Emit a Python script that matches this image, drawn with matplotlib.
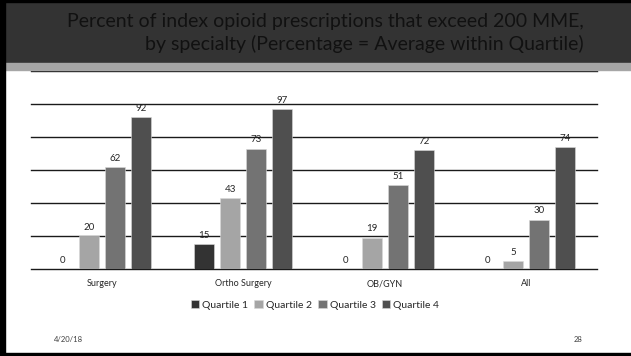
import numpy as np
import matplotlib.pyplot as plt
from matplotlib.patches import Rectangle

# data
categories = ['Surgery', 'Ortho Surgery', 'OB/GYN', 'All']
series_names = ['Quartile 1', 'Quartile 2', 'Quartile 3', 'Quartile 4']
quartile1 = [0, 15, 0, 0]
quartile2 = [20, 43, 19, 5]
quartile3 = [62, 73, 51, 30]
quartile4 = [92, 97, 72, 74]
colors = ['#333333', '#a5a5a5', '#737373', '#4f4f4f']

W, H = 631, 356
fig = plt.figure(figsize=(W / 100, H / 100), dpi=100)
plt.rcParams['font.family'] = ['Lato', 'DejaVu Sans']

# slide decoration: header, band, borders
fig.patches.append(Rectangle((0, 1 - 63 / H), 1, 63 / H, transform=fig.transFigure,
                             color='#333333', zorder=0))
fig.patches.append(Rectangle((0, 1 - 70 / H), 1, 7 / H, transform=fig.transFigure,
                             color='#a6a6a6', zorder=0))
fig.patches.append(Rectangle((0, 0), 5 / W, 1, transform=fig.transFigure, color='black', zorder=3))
fig.patches.append(Rectangle((0, 1 - 2 / H), 1, 2 / H, transform=fig.transFigure, color='black', zorder=3))
fig.patches.append(Rectangle((0, 0), 1, 3 / H, transform=fig.transFigure, color='black', zorder=3))

fig.text(584 / W, 1 - 22 / H, 'Percent of index opioid prescriptions that exceed 200 MME,',
         ha='right', va='center', fontsize=14, color='#111111')
fig.text(584 / W, 1 - 44 / H, 'by specialty (Percentage = Average within Quartile)',
         ha='right', va='center', fontsize=14, color='#111111')

ax = fig.add_axes([31 / W, 1 - 269 / H, 566 / W, 198 / H])
x = np.arange(len(categories))
step = 0.184
width = 0.14
for i, (vals, name) in enumerate(zip([quartile1, quartile2, quartile3, quartile4], series_names)):
    pos = x + (i - 1.5) * step
    ax.bar(pos, vals, width, color=colors[i], label=name, zorder=3,
           edgecolor='#d9d9d9', linewidth=0.4)
    for px, v in zip(pos, vals):
        ax.annotate(str(v), (px, v), xytext=(0, 3), textcoords='offset points',
                    ha='center', va='bottom', fontsize=7, color='#262626')

ax.set_xlim(-0.5, len(categories) - 0.5)
ax.set_ylim(0, 120)
ax.set_yticks(np.arange(20, 121, 20))
ax.yaxis.grid(True, color='#1a1a1a', linewidth=1)
for gl in ax.get_ygridlines():
    gl.set_clip_on(False)
ax.set_axisbelow(True)
ax.tick_params(left=False, labelleft=False, bottom=False)
ax.set_xticks(x)
ax.set_xticklabels(categories, fontsize=6.5, color='#262626')
ax.tick_params(axis='x', pad=4)
for s in ['top', 'right', 'left']:
    ax.spines[s].set_visible(False)
ax.spines['bottom'].set_color('#1a1a1a')
ax.spines['bottom'].set_linewidth(1)

fig.legend(loc='center', bbox_to_anchor=(315 / W, 1 - 305 / H), ncol=4, frameon=False,
           fontsize=7.5, handlelength=0.8, handleheight=0.8, handletextpad=0.3,
           columnspacing=0.6, labelcolor='#262626')

fig.text(54 / W, 1 - 339 / H, '4/20/18', ha='left', va='center', fontsize=5.5, color='#404040')
fig.text(582 / W, 1 - 339 / H, '28', ha='right', va='center', fontsize=5.5, color='#404040')

fig.savefig('out.png', dpi=100)
